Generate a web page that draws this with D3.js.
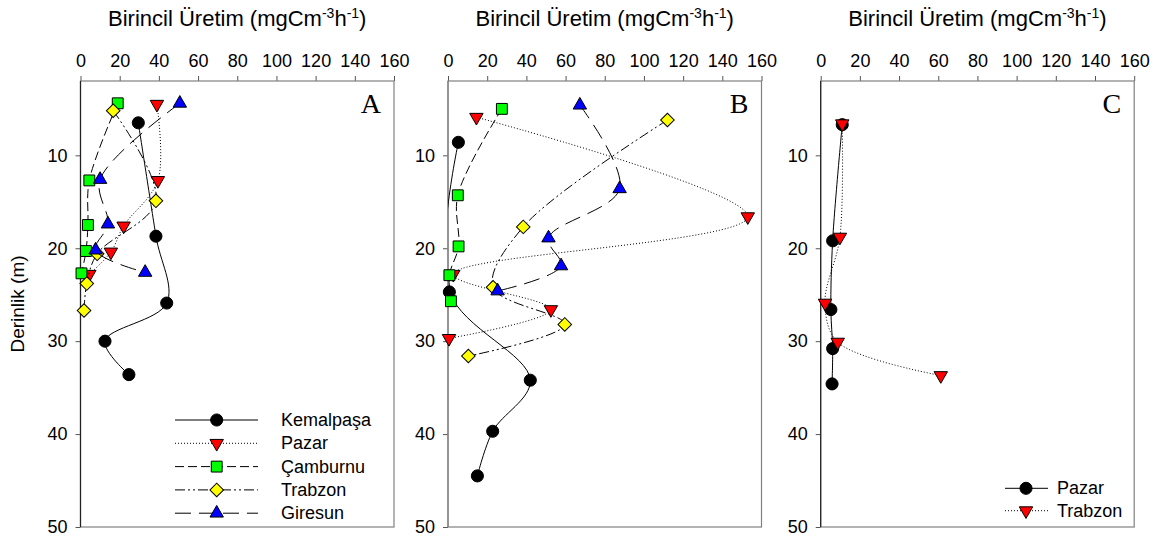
<!DOCTYPE html>
<html>
<head>
<meta charset="utf-8">
<script src="https://cdn.jsdelivr.net/npm/d3@7"></script>
<style>
  body { margin: 0; background: #fff; }
  text { font-family: Arial, "Liberation Sans", sans-serif; fill: #000; }
</style>
</head>
<body>
<script>
// values: [production, depth]
var xTicks = [0, 20, 40, 60, 80, 100, 120, 140, 160];
var yTicks = [10, 20, 30, 40, 50];

// panel A
var kemalpasaA = [[29.5, 6.5], [38.5, 18.7], [44, 25.9], [12.5, 30], [24.7, 33.6]];
var pazarA     = [[39, 4.5], [39.5, 12.7], [22, 17.6], [15.5, 20.4], [4.5, 22.8]];
var camburnuA  = [[19, 4.4], [4.5, 12.7], [3.8, 17.5], [2.8, 20.3], [0.5, 22.7]];
var trabzonA   = [[16.7, 5.2], [38.5, 14.9], [8.5, 20.6], [3.2, 23.8], [1.8, 26.7]];
var giresunA   = [[50.7, 4.4], [10, 12.6], [14, 17.4], [7.7, 20.2], [33, 22.6]];

// panel B
var kemalpasaB = [[5.3, 8.6], [0.7, 24.7], [42, 34.2], [22.8, 39.7], [15, 44.5]];
var pazarB     = [[14.5, 5.9], [153, 16.6], [2.7, 22.8], [52.5, 26.6], [0.5, 29.7]];
var camburnuB  = [[27.5, 5], [5, 14.3], [5.4, 19.8], [0.7, 22.9], [1.5, 25.7]];
var trabzonB   = [[112, 6.2], [38.4, 17.7], [23, 24.2], [59.6, 28.2], [10.4, 31.6]];
var giresunB   = [[67.3, 4.6], [87.6, 13.6], [51.3, 18.9], [57.7, 21.9], [25.3, 24.6]];

// panel C
var pazarC   = [[11, 6.7], [6.1, 19.2], [5.2, 26.6], [6.1, 30.8], [5.8, 34.6]];
var trabzonC = [[11, 6.6], [9.8, 18.8], [2.2, 25.9], [8.7, 30.1], [61.3, 33.7]];

var namesABC = ['Kemalpaşa', 'Pazar', 'Çamburnu', 'Trabzon', 'Giresun'];
var namesC = ['Pazar', 'Trabzon'];

// look of each site
var styles = {
  solid:   { dash: null,              fill: '#000',    sym: 'circle' },
  dotted:  { dash: '1,2',             fill: '#ff0000', sym: 'down' },
  dashed:  { dash: '9,4',             fill: '#00ff00', sym: 'square' },
  dashdot: { dash: '10,3,2,3,2,3',    fill: '#ffff00', sym: 'diamond' },
  longdash:{ dash: '16,8',            fill: '#0000ff', sym: 'up' }
};
var orderABC = ['solid', 'dotted', 'dashed', 'dashdot', 'longdash'];

var width = 1160, height = 540;
var plotTop = 81, plotBottom = 527, pw = 313.5;

var svg = d3.select('body').append('svg')
  .attr('width', width)
  .attr('height', height);

var panels = [
  { left: 80.5, letter: 'A', series: [kemalpasaA, pazarA, camburnuA, trabzonA, giresunA], styles: orderABC, legend: namesABC },
  { left: 448,  letter: 'B', series: [kemalpasaB, pazarB, camburnuB, trabzonB, giresunB], styles: orderABC, legend: null },
  { left: 820.7, letter: 'C', series: [pazarC, trabzonC], styles: [orderABC[0], orderABC[1]], legend: namesC }
];

function symbolPath(kind) {
  if (kind === 'circle') return d3.symbol().type(d3.symbolCircle).size(115)();
  if (kind === 'square') return d3.symbol().type(d3.symbolSquare).size(118)();
  if (kind === 'diamond') return d3.symbol().type(d3.symbolSquare).size(92)();
  return d3.symbol().type(d3.symbolTriangle).size(78)();
}
function symbolRot(kind) {
  if (kind === 'diamond') return 45;
  if (kind === 'down') return 180;
  return 0;
}

panels.forEach(function(p, i) {
  var x = d3.scaleLinear().domain([0, 160]).range([p.left, p.left + pw]);
  var y = d3.scaleLinear().domain([2, 50]).range([plotTop, plotBottom]);

  var g = svg.append('g');

  // title
  g.append('text')
    .attr('x', p.left + pw / 2)
    .attr('y', 26)
    .attr('text-anchor', 'middle')
    .style('font-size', '22px')
    .call(function(t) {
      t.append('tspan').text('Birincil Üretim (mgCm');
      t.append('tspan').attr('dy', -8).style('font-size', '14px').text('-3');
      t.append('tspan').attr('dy', 8).text('h');
      t.append('tspan').attr('dy', -8).style('font-size', '14px').text('-1');
      t.append('tspan').attr('dy', 8).text(')');
    });

  // axes
  var xAxis = g.append('g')
    .attr('transform', 'translate(0,' + plotTop + ')')
    .call(d3.axisTop(x).tickValues(xTicks).tickSize(5).tickPadding(9).tickSizeOuter(0));
  var yAxis = g.append('g')
    .attr('transform', 'translate(' + p.left + ',0)')
    .call(d3.axisLeft(y).tickValues(yTicks).tickSize(5).tickPadding(8).tickSizeOuter(0));
  [xAxis, yAxis].forEach(function(a) {
    a.select('.domain').remove();
    a.selectAll('line').attr('stroke', '#555');
    a.selectAll('text').style('font-size', '18px').attr('font-family', null);
  });

  // frame
  g.append('rect')
    .attr('x', p.left).attr('y', plotTop)
    .attr('width', pw).attr('height', plotBottom - plotTop)
    .attr('fill', 'none').attr('stroke', '#808080').attr('stroke-width', 1.2);
  g.append('line')
    .attr('x1', p.left).attr('x2', p.left).attr('y1', plotTop).attr('y2', plotBottom)
    .attr('stroke', i === 1 ? '#808080' : '#222').attr('stroke-width', 1.2);

  // panel letter
  g.append('text')
    .attr('x', p.left + pw - 13)
    .attr('y', 113)
    .attr('text-anchor', 'end')
    .style('font-family', '"Liberation Serif", "Times New Roman", serif')
    .style('font-size', '28px')
    .text(p.letter);

  var clipId = 'clip' + i;
  g.append('clipPath').attr('id', clipId)
    .append('rect')
    .attr('x', p.left).attr('y', plotTop)
    .attr('width', pw).attr('height', plotBottom - plotTop);

  var line = d3.line()
    .x(function(d) { return x(d[0]); })
    .y(function(d) { return y(d[1]); })
    .curve(d3.curveCatmullRom.alpha(0.5));

  p.series.forEach(function(data, si) {
    var st = styles[p.styles[si]];
    var sg = g.append('g');
    sg.append('path')
      .attr('clip-path', 'url(#' + clipId + ')')
      .attr('d', line(data))
      .attr('fill', 'none')
      .attr('stroke', '#000')
      .attr('stroke-width', 1)
      .attr('stroke-dasharray', st.dash);
    sg.selectAll('path.mark')
      .data(data)
      .enter().append('path')
      .attr('class', 'mark')
      .attr('d', symbolPath(st.sym))
      .attr('transform', function(d) {
        return 'translate(' + x(d[0]) + ',' + y(d[1]) + ') rotate(' + symbolRot(st.sym) + ')';
      })
      .attr('fill', st.fill)
      .attr('stroke', '#000')
      .attr('stroke-width', 1);
  });

  // legend
  if (p.legend) {
    var lx0, lx1, lsym, ltext, ly0, ldy;
    if (i === 0) { lx0 = 175; lx1 = 258; lsym = 216.7; ltext = 281; ly0 = 420; ldy = 23.3; }
    else { lx0 = 1005; lx1 = 1048; lsym = 1026; ltext = 1057; ly0 = 488.3; ldy = 22.4; }
    p.legend.forEach(function(name, li) {
      var st = styles[p.styles[li]];
      var ly = ly0 + li * ldy;
      g.append('line')
        .attr('x1', lx0).attr('x2', lx1).attr('y1', ly).attr('y2', ly)
        .attr('stroke', '#000').attr('stroke-width', 1)
        .attr('stroke-dasharray', st.dash);
      g.append('path')
        .attr('d', symbolPath(st.sym))
        .attr('transform', 'translate(' + lsym + ',' + ly + ') rotate(' + symbolRot(st.sym) + ')')
        .attr('fill', st.fill).attr('stroke', '#000');
      g.append('text')
        .attr('x', ltext).attr('y', ly + 6)
        .style('font-size', '18px')
        .text(name);
    });
  }
});

// shared y label
svg.append('text')
  .attr('transform', 'translate(24,' + ((plotTop + plotBottom) / 2) + ') rotate(-90)')
  .attr('text-anchor', 'middle')
  .style('font-size', '19px')
  .text('Derinlik (m)');
</script>
</body>
</html>
